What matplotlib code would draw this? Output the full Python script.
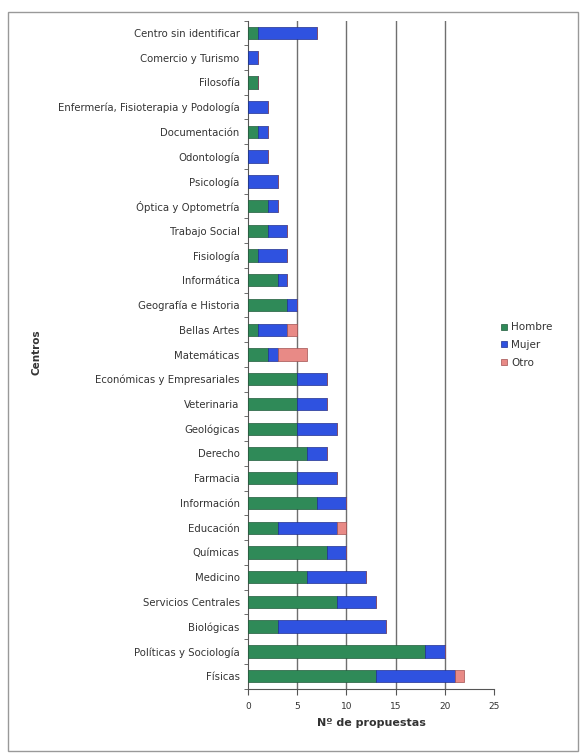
import matplotlib
matplotlib.use("Agg")
import matplotlib.pyplot as plt
from matplotlib.patches import Rectangle
from matplotlib.lines import Line2D
import numpy as np

centros = ["Centro sin identificar", "Comercio y Turismo", "Filosofía",
           "Enfermería, Fisioterapia y Podología", "Documentación", "Odontología",
           "Psicología", "Óptica y Optometría", "Trabajo Social", "Fisiología",
           "Informática", "Geografía e Historia", "Bellas Artes", "Matemáticas",
           "Económicas y Empresariales", "Veterinaria", "Geológicas", "Derecho",
           "Farmacia", "Información", "Educación", "Químicas", "Medicino",
           "Servicios Centrales", "Biológicas", "Políticas y Sociología", "Físicas"]
hombre = [1, 0, 1, 0, 1, 0, 0, 2, 2, 1, 3, 4, 1, 2, 5, 5, 5, 6, 5, 7, 3, 8, 6, 9, 3, 18, 13]
mujer  = [6, 1, 0, 2, 1, 2, 3, 1, 2, 3, 1, 1, 3, 1, 3, 3, 4, 2, 4, 3, 6, 2, 6, 4, 11, 2, 8]
otro   = [0, 0, 0, 0, 0, 0, 0, 0, 0, 0, 0, 0, 1, 3, 0, 0, 0, 0, 0, 0, 1, 0, 0, 0, 0, 0, 1]
xticks = [0, 5, 10, 15, 20, 25]

c_h, c_m, c_o = "#2f8a58", "#2f52e0", "#e88a86"

fig = plt.figure(figsize=(5.84, 7.55), dpi=100)
ax = fig.add_axes([248/584, 1-688.5/755, (494-248)/584, (688.5-20.5)/755])

n = len(centros)
y = np.arange(n)[::-1]
h = np.array(hombre); m = np.array(mujer); o = np.array(otro)
bh = 0.5
ax.barh(y, h, height=bh, color=c_h, edgecolor="#1f5a3a", linewidth=0.5, label="Hombre", zorder=3)
ax.barh(y, m, left=h, height=bh, color=c_m, edgecolor="#1f2f90", linewidth=0.5, label="Mujer", zorder=3)
ax.barh(y, o, left=h+m, height=bh, color=c_o, edgecolor="#a05050", linewidth=0.5, label="Otro", zorder=3)

ax.set_xlim(0, 25)
ax.set_ylim(-0.5, n-0.5)
ax.set_xticks(xticks)
ax.set_xticklabels([str(t) for t in xticks], fontsize=6.5, color="#333333")
ax.set_yticks(y)
ax.set_yticklabels(centros, fontsize=7.3, color="#333333")
ax.set_yticks(np.arange(n+1)-0.5, minor=True)
ax.tick_params(axis="y", which="major", length=0, pad=6)
ax.tick_params(axis="y", which="minor", length=3, direction="out", color="#555555")
ax.tick_params(axis="x", which="major", length=4, direction="out", color="#555555", pad=6)

for g in [5, 10, 15, 20]:
    ax.axvline(g, color="#6f6f6f", linewidth=1.0, zorder=1)

for s in ["top", "right"]:
    ax.spines[s].set_visible(False)
ax.spines["left"].set_color("#555555")
ax.spines["bottom"].set_color("#555555")

ax.set_xlabel("Nº de propuestas", fontsize=8, fontweight="bold", color="#333333", labelpad=5)
fig.text(37/584, 1-352/755, "Centros", rotation=90, fontsize=7.5, fontweight="bold",
         color="#333333", ha="center", va="center")

handles = [Line2D([], [], marker="s", linestyle="none", markersize=5, markerfacecolor=c, markeredgecolor=e, markeredgewidth=0.5)
           for c, e in [(c_h, "#1f5a3a"), (c_m, "#1f2f90"), (c_o, "#a05050")]]
fig.legend(handles, ["Hombre", "Mujer", "Otro"], loc="center left",
           bbox_to_anchor=(489/584, 1-345/755), frameon=False, fontsize=7.5,
           handletextpad=0.2, labelspacing=0.75, handlelength=1.0, labelcolor="#333333")

fig.patches.append(Rectangle((8/584, 1-751/755), (578-8)/584, (751-12)/755,
                             transform=fig.transFigure, fill=False,
                             edgecolor="#999999", linewidth=1.0))

fig.savefig("out.png", dpi=100)
